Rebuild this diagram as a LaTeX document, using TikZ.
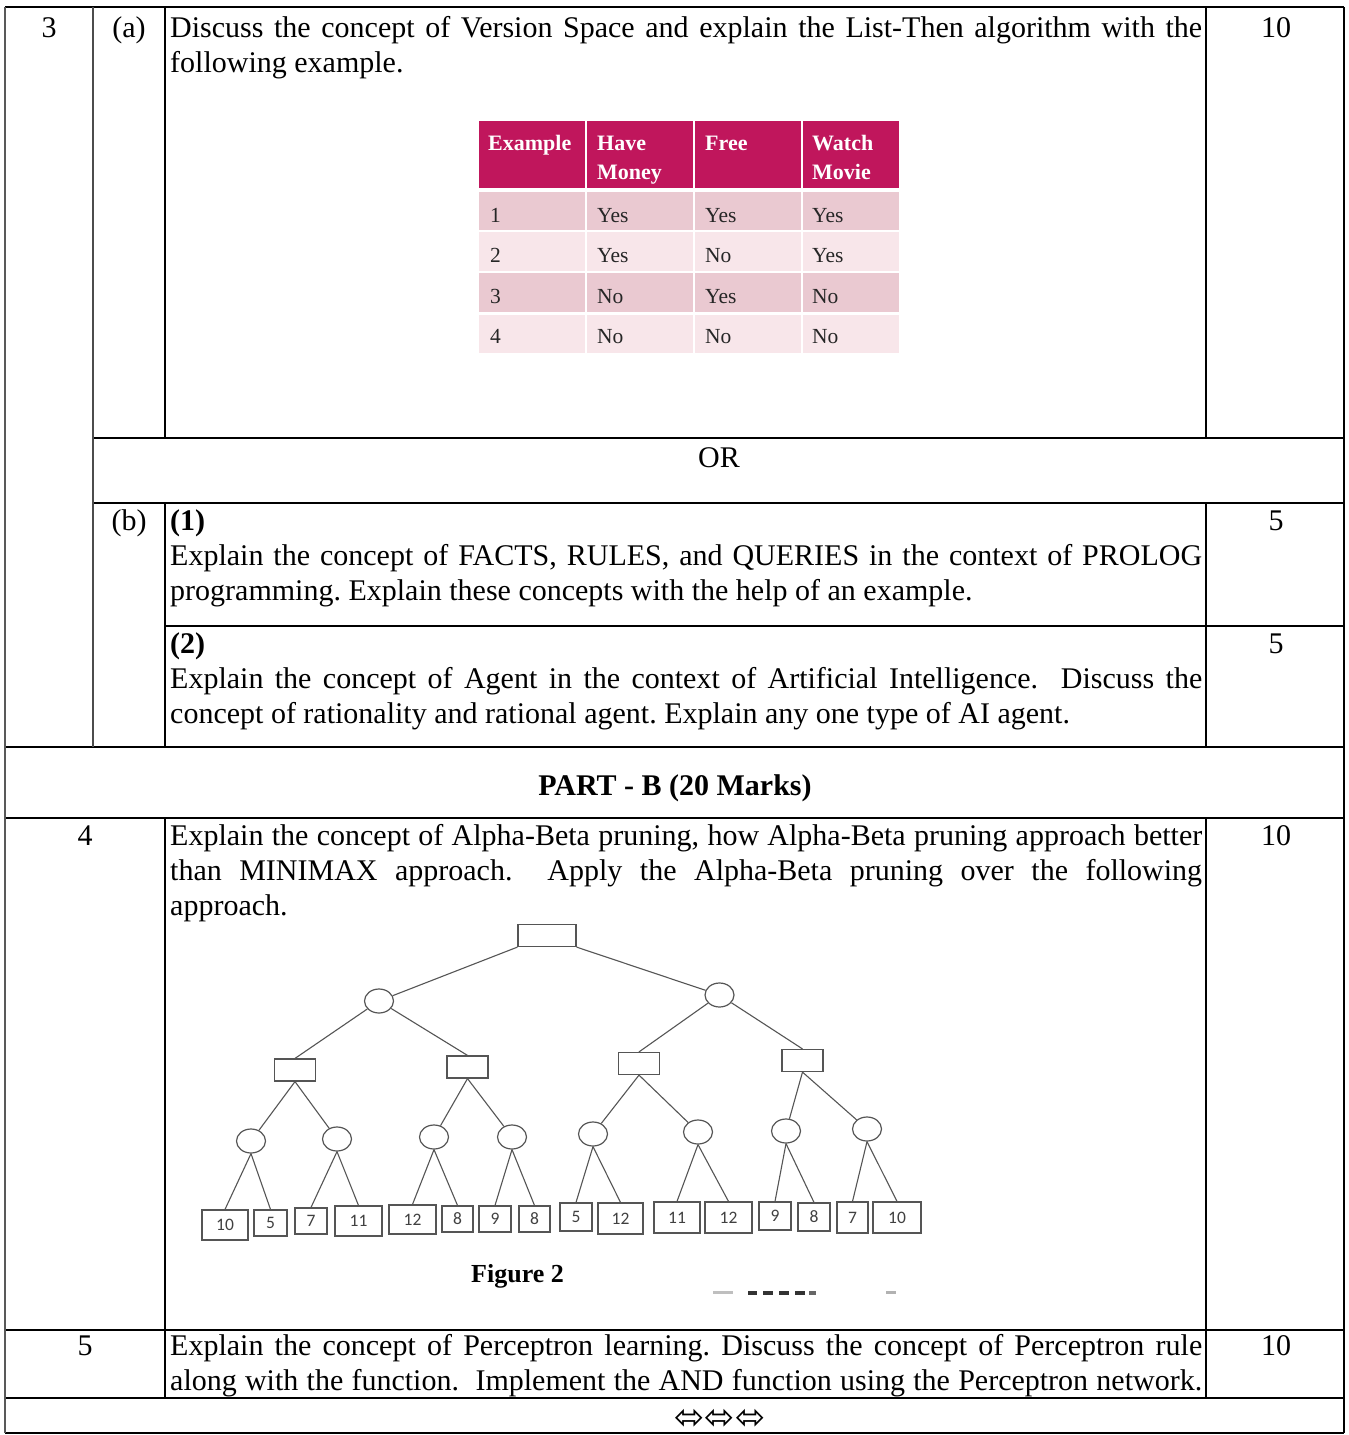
\documentclass[tikz,border=0pt]{standalone}
\usepackage{fontspec}
\setmainfont{Liberation Serif}
\newfontfamily\leaffont{Carlito}
\newfontfamily\symfont{DejaVu Sans}
\usetikzlibrary{shapes.geometric}
\definecolor{hdr}{RGB}{192,22,92}
\definecolor{rowA}{RGB}{234,201,209}
\definecolor{rowB}{RGB}{248,230,234}
\definecolor{treeline}{RGB}{85,85,85}
\newcommand\jline[1]{\hbox to 1032pt{\strut #1}}
\newcommand\nline[1]{\hbox{\strut #1}}
\frenchspacing
\begin{document}
\begin{tikzpicture}[x=1pt,y=-1pt,
  body/.style={font=\fontsize{30}{35}\selectfont, inner sep=0, anchor=base west},
  num/.style={font=\fontsize{30}{35}\selectfont, inner sep=0, anchor=base},
  hrule/.style={line width=1.8pt},
  vrule/.style={line width=1.4pt},
  thdr/.style={font=\fontsize{22}{29}\selectfont\bfseries, text=white, inner sep=0, anchor=base west},
  tcell/.style={font=\fontsize{21.5}{25}\selectfont, text=black!85, inner sep=0, anchor=base west},
  maxn/.style={draw=treeline, line width=1.2pt, rectangle, minimum height=22pt, inner sep=0},
  minn/.style={draw=treeline, line width=1.2pt, ellipse, minimum width=29pt, minimum height=24pt, inner sep=0},
  leaf/.style={draw=treeline, line width=1.2pt, rectangle, inner sep=0, font=\leaffont\fontsize{17.5}{17.5}\selectfont, text=black!75},
  tedge/.style={draw=treeline, line width=1.1pt}]
\useasboundingbox (0,0) rectangle (1349,1435);
\fill[white] (0,0) rectangle (1349,1435);

% ---------- grid ----------
\draw[hrule] (5,7) -- (1344,7);
\draw[hrule] (93,438) -- (1344,438);
\draw[hrule] (93,503) -- (1344,503);
\draw[hrule] (165,626) -- (1344,626);
\draw[hrule] (5,747) -- (1344,747);
\draw[hrule] (5,818) -- (1344,818);
\draw[hrule] (5,1330) -- (1344,1330);
\draw[hrule] (5,1398) -- (1344,1398);
\draw[hrule] (5,1433) -- (1344,1433);
\draw[vrule, black!65] (5,7) -- (5,1433);
\draw[vrule, black!70] (93,7) -- (93,747);
\draw[vrule] (165,7) -- (165,438);
\draw[vrule] (165,503) -- (165,747);
\draw[vrule] (165,818) -- (165,1398);
\draw[vrule] (1206,7) -- (1206,438);
\draw[vrule] (1206,503) -- (1206,747);
\draw[vrule] (1206,818) -- (1206,1398);
\draw[vrule] (1344,7) -- (1344,1433);

% ---------- left labels and marks ----------
\node[num] (q3) at (49,37) {3};
\node[num] (qa) at (129,37) {(a)};
\node[num] (qb) at (129,530) {(b)};
\node[num] (q4) at (85,845) {4};
\node[num] (q5) at (85,1355) {5};
\node[num] (m1) at (1276,37) {10};
\node[num] (m2) at (1276,530) {5};
\node[num] (m3) at (1276,653) {5};
\node[num] (m4) at (1276,845) {10};
\node[num] (m5) at (1276,1355) {10};

% ---------- texts ----------
\node[body] (t3a) at (170,37) {\vtop{%
  \jline{Discuss the concept of Version Space and explain the List-Then algorithm with the}
  \nline{following example.}}};
\node[num] (or) at (719,467) {OR};
\node[body] (tb1) at (170,530) {\vtop{%
  \nline{\textbf{(1)}}
  \jline{Explain the concept of FACTS, RULES, and QUERIES in the context of PROLOG}
  \nline{programming. Explain these concepts with the help of an example.}}};
\node[body] (tb2) at (170,653) {\vtop{%
  \nline{\textbf{(2)}}
  \jline{Explain the concept of Agent in the context of Artificial Intelligence.\ \ Discuss the}
  \nline{concept of rationality and rational agent. Explain any one type of AI agent.}}};
\node[num, font=\fontsize{30}{35}\selectfont\bfseries] (partb) at (675,795) {PART - B (20 Marks)};
\node[body] (t4) at (170,845) {\vtop{%
  \jline{Explain the concept of Alpha-Beta pruning, how Alpha-Beta pruning approach better}
  \jline{than MINIMAX approach.\ \ Apply the Alpha-Beta pruning over the following}
  \nline{approach.}}};
\node[body] (t5) at (170,1355) {\vtop{%
  \jline{Explain the concept of Perceptron learning. Discuss the concept of Perceptron rule}
  \jline{along with the function.\ \ Implement the AND function using the Perceptron network.}}};
\node[num, font=\symfont\fontsize{36}{36}\selectfont] (end) at (720,1429) {⬄⬄⬄};

% ---------- data table ----------
\fill[hdr] (479,121) rectangle (585,188);
\fill[hdr] (587,121) rectangle (693,188);
\fill[hdr] (695,121) rectangle (801,188);
\fill[hdr] (803,121) rectangle (899,188);
\foreach \ya/\yb/\c in {192/230/rowA, 232/271/rowB, 273/312/rowA, 315/353/rowB}{
  \fill[\c] (479,\ya) rectangle (585,\yb);
  \fill[\c] (587,\ya) rectangle (693,\yb);
  \fill[\c] (695,\ya) rectangle (801,\yb);
  \fill[\c] (803,\ya) rectangle (899,\yb);
}
\node[thdr] (h1) at (488,150) {Example};
\node[thdr] (h2) at (597,150) {\vtop{\hbox{Have}\hbox{Money}}};
\node[thdr] (h3) at (705,150) {Free};
\node[thdr] (h4) at (812,150) {\vtop{\hbox{Watch}\hbox{Movie}}};
\foreach \n/\y/\a/\b/\c in {1/222/Yes/Yes/Yes, 2/262/Yes/No/Yes, 3/303/No/Yes/No, 4/343/No/No/No}{
  \node[tcell] (r\n c1) at (490,\y) {\n};
  \node[tcell] (r\n c2) at (597,\y) {\a};
  \node[tcell] (r\n c3) at (705,\y) {\b};
  \node[tcell] (r\n c4) at (812,\y) {\c};
}

% ---------- game tree ----------
\node[maxn, minimum width=58pt] (root) at (547,935.5) {};
\node[minn] (a1) at (379,1001) {};
\node[minn] (a2) at (719.5,995) {};
\node[maxn, minimum width=41pt] (b1) at (295,1070) {};
\node[maxn, minimum width=41pt] (b2) at (467.5,1067) {};
\node[maxn, minimum width=41pt] (b3) at (639,1063.5) {};
\node[maxn, minimum width=41pt] (b4) at (802.5,1060.5) {};
\node[minn] (c1) at (251,1141) {};
\node[minn] (c2) at (337,1139) {};
\node[minn] (c3) at (434,1137) {};
\node[minn] (c4) at (512,1137) {};
\node[minn] (c5) at (593,1134) {};
\node[minn] (c6) at (698,1132) {};
\node[minn] (c7) at (786,1131) {};
\node[minn] (c8) at (867,1129) {};
\foreach \i/\xa/\xb/\ya/\yb/\v in {
  1/202/248/1210/1240/10, 2/254/287/1210/1236/5, 3/295/327/1208/1234/7, 4/335/382/1206/1236/11,
  5/389/436/1205/1234/12, 6/442/473/1206/1232/8, 7/479/511/1206/1232/9, 8/519/550/1206/1232/8,
  9/560/592/1203/1231/5, 10/598/643/1203/1234/12, 11/654/700/1202/1233/11, 12/705/752/1202/1233/12,
  13/759/791/1202/1230/9, 14/798/830/1203/1231/8, 15/837/868/1202/1233/7, 16/873/921/1202/1233/10}{
  \node[leaf, minimum width={(\xb-\xa)*1pt}, minimum height={(\yb-\ya)*1pt}] (d\i) at ({(\xa+\xb)/2},{(\ya+\yb)/2}) {\v};
}
\draw[tedge] (root.south west) -- (a1);
\draw[tedge] (root.south east) -- (a2);
\draw[tedge] (a1) -- (b1.north);
\draw[tedge] (a1) -- (b2.north);
\draw[tedge] (a2) -- (b3.north);
\draw[tedge] (a2) -- (b4.north);
\draw[tedge] (b1.south) -- (c1);
\draw[tedge] (b1.south) -- (c2);
\draw[tedge] (b2.south) -- (c3);
\draw[tedge] (b2.south) -- (c4);
\draw[tedge] (b3.south) -- (c5);
\draw[tedge] (b3.south) -- (c6);
\draw[tedge] (b4.south) -- (c7);
\draw[tedge] (b4.south) -- (c8);
\foreach \p/\l/\r in {1/1/2, 2/3/4, 3/5/6, 4/7/8, 5/9/10, 6/11/12, 7/13/14, 8/15/16}{
  \draw[tedge] (c\p.south) -- (d\l.north);
  \draw[tedge] (c\p.south) -- (d\r.north);
}
\node[anchor=base west, inner sep=0, font=\fontsize{26}{26}\selectfont\bfseries] (fig) at (471,1282) {Figure 2};
% cut-off marks below the figure
\fill[black!25] (713,1291) rectangle (733,1294);
\fill[black!80] (748,1290.5) rectangle (757,1295);
\fill[black!80] (763,1290.5) rectangle (773,1295);
\fill[black!80] (779,1290.5) rectangle (789,1295);
\fill[black!80] (795,1290.5) rectangle (805,1295);
\fill[black!60] (809,1290.5) rectangle (816,1295);
\fill[black!30] (886,1291) rectangle (896,1294);
\end{tikzpicture}
\end{document}
